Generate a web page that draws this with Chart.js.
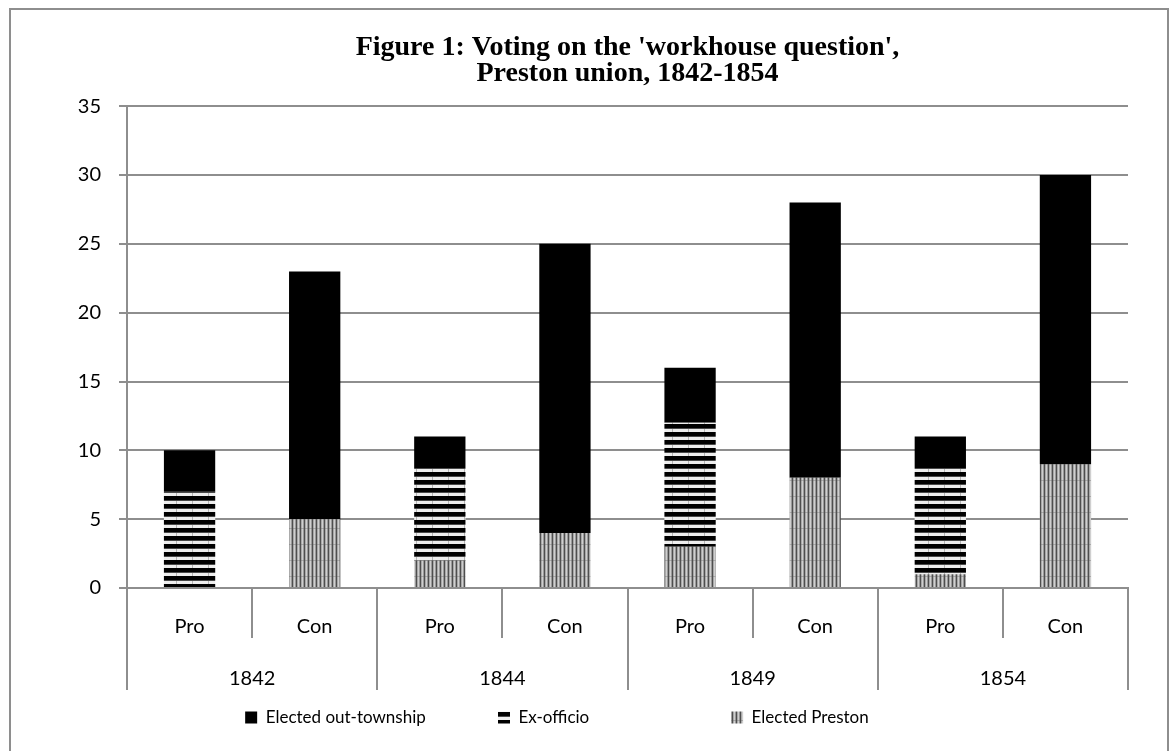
<!DOCTYPE html>
<html>
<head>
<meta charset="utf-8">
<script src="https://cdn.jsdelivr.net/npm/chart.js@4.4.1/dist/chart.umd.min.js"></script>
<style>
  html, body { margin: 0; padding: 0; background: #fff; }
  #wrap { position: relative; width: 1172px; height: 751px; overflow: hidden; }
  #frame { position: absolute; left: 9px; top: 8px; width: 1160px; height: 800px;
           border: 2px solid #8e8e8e; box-sizing: border-box; }
  #c { position: absolute; left: 0; top: 0; }
</style>
</head>
<body>
<div id="wrap">
  <div id="frame"></div>
  <canvas id="c" width="1172" height="751"></canvas>
</div>
<script>
// Votes by side (Pro / Con) for each year, split by type of guardian
const years = ['1842', '1844', '1849', '1854'];
const voteSides = ['Pro', 'Con', 'Pro', 'Con', 'Pro', 'Con', 'Pro', 'Con'];
const electedPreston = [0, 5, 2, 4, 3, 8, 1, 9];
const exOfficio = [7, 0, 7, 0, 9, 0, 8, 0];
const electedOutTownship = [3, 18, 2, 21, 4, 20, 2, 21];
const yMax = 35;
const yStep = 5;

const titleLines = ["Figure 1: Voting on the 'workhouse question',", 'Preston union, 1842-1854'];

// ---- fill patterns ----
function makePattern(w, h, paint) {
  const cv = document.createElement('canvas');
  cv.width = w; cv.height = h;
  const g = cv.getContext('2d');
  paint(g, w, h);
  return g.createPattern(cv, 'repeat');
}
const ctx = document.getElementById('c').getContext('2d');

// vertical hatching for elected Preston guardians
const prestonFill = makePattern(4, 16, (g, w, h) => {
  const cols = ['#4e4e4e', '#a8a8a8', '#cfcfcf', '#9a9a9a'];
  for (let x = 0; x < w; x++) { g.fillStyle = cols[x]; g.fillRect(x, 0, 1, h); }
  g.fillStyle = 'rgba(100,100,100,0.35)';
  g.fillRect(1, 0, 3, 1);
});
// horizontal banding for ex-officio guardians
const exOfficioFill = makePattern(16, 8, (g, w, h) => {
  g.fillStyle = '#eeeeee'; g.fillRect(0, 0, w, h);
  g.fillStyle = '#000'; g.fillRect(0, 0, w, 4);
  g.fillStyle = '#4a4a4a'; g.fillRect(0, 4, w, 1);
  g.fillStyle = '#b4b4b4'; g.fillRect(0, 5, 1, 3);
});

// ---- legend spacing: pad each entry out to a fixed slot width ----
const legendFont = '17px Lato';
const measure = document.createElement('canvas').getContext('2d');
measure.font = legendFont;
function padTo(text, px) {
  let s = text;
  while (measure.measureText(s + ' ').width <= px) s += ' ';
  return s;
}
const legendSlots = { 'Elected out-township': 213, 'Ex-officio': 193, 'Elected Preston': 146 };

const gridColor = '#8e8e8e';
const tickFont = { family: 'Lato', size: 20 };

new Chart(ctx, {
  type: 'bar',
  data: {
    labels: voteSides,
    datasets: [
      { label: 'Elected Preston', data: electedPreston, backgroundColor: prestonFill, xAxisID: 'x' },
      { label: 'Ex-officio', data: exOfficio, backgroundColor: exOfficioFill, xAxisID: 'x' },
      { label: 'Elected out-township', data: electedOutTownship, backgroundColor: '#000', xAxisID: 'x' }
    ]
  },
  options: {
    responsive: false,
    animation: false,
    layout: { padding: { left: 12, right: 44, top: 10, bottom: 15 } },
    datasets: { bar: { categoryPercentage: 1, barPercentage: 0.41, borderWidth: 0 } },
    scales: {
      x: {
        stacked: true,
        offset: true,
        grid: { offset: true, drawOnChartArea: false, tickLength: 50, color: gridColor, lineWidth: 2 },
        border: { color: gridColor, width: 2 },
        ticks: { padding: -23, color: '#000', font: tickFont, maxRotation: 0, autoSkip: false },
        afterFit(scale) { scale.height = 49; }
      },
      x2: {
        type: 'category',
        position: 'bottom',
        weight: 1,
        labels: years,
        offset: true,
        grid: { offset: true, drawOnChartArea: false, tickLength: 53, color: gridColor, lineWidth: 2 },
        border: { display: false },
        ticks: { padding: -23, color: '#000', font: tickFont, maxRotation: 0, autoSkip: false },
        afterFit(scale) { scale.height = 52; }
      },
      y: {
        stacked: true,
        min: 0,
        max: yMax,
        ticks: { stepSize: yStep, padding: 18, color: '#000', font: tickFont },
        grid: { color: gridColor, lineWidth: 2, tickLength: 8 },
        border: { color: gridColor, width: 2 },
        afterFit(scale) { scale.width = 115; }
      }
    },
    plugins: {
      tooltip: { enabled: false },
      title: {
        display: true,
        fullSize: false,
        text: titleLines,
        color: '#000',
        font: { family: 'Liberation Serif', size: 28, weight: 'bold', lineHeight: 0.95 },
        padding: { top: 24, bottom: 19 }
      },
      legend: {
        position: 'bottom',
        reverse: true,
        labels: {
          color: '#000',
          font: { family: 'Lato', size: 17 },
          boxWidth: 12,
          boxHeight: 12,
          padding: 20,
          generateLabels(chart) {
            const items = Chart.defaults.plugins.legend.labels.generateLabels(chart);
            items.forEach(it => { it.text = padTo(it.text, legendSlots[it.text] || 0); });
            return items;
          }
        }
      }
    }
  }
});
</script>
</body>
</html>
